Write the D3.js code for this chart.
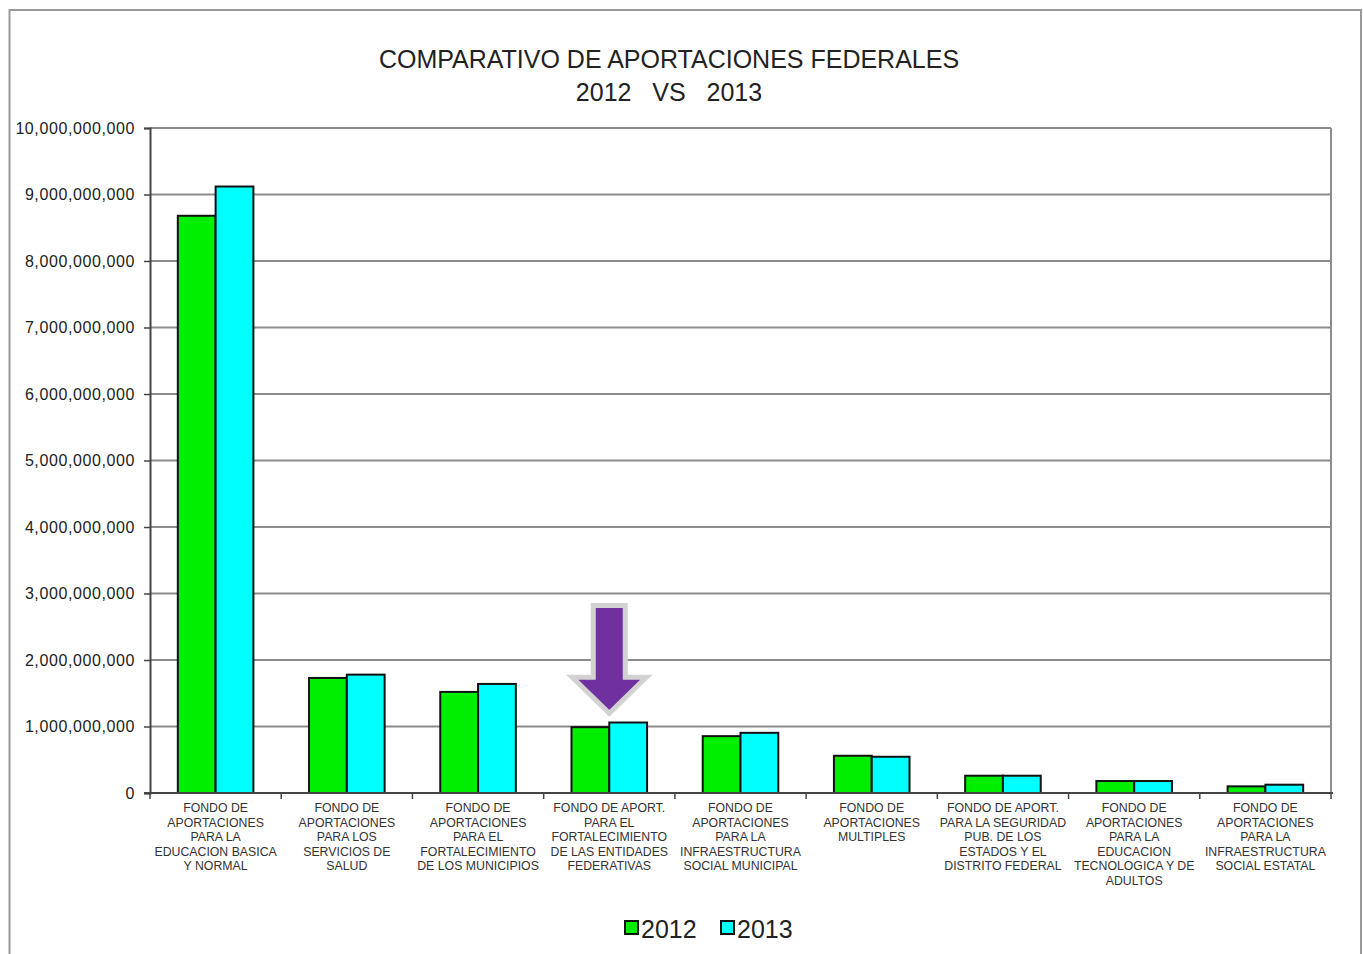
<!DOCTYPE html>
<html>
<head>
<meta charset="utf-8">
<script src="https://cdn.jsdelivr.net/npm/d3@7"></script>
<style>
  html, body { margin: 0; padding: 0; background: #fff; }
  svg { display: block; font-family: "Liberation Sans", Arial, sans-serif; }
</style>
</head>
<body>
<svg id="chart" width="1363" height="954"></svg>
<script>
// ---- data ----
const categories = [
  ["FONDO DE", "APORTACIONES", "PARA LA", "EDUCACION BASICA", "Y NORMAL"],
  ["FONDO DE", "APORTACIONES", "PARA LOS", "SERVICIOS DE", "SALUD"],
  ["FONDO DE", "APORTACIONES", "PARA EL", "FORTALECIMIENTO", "DE LOS MUNICIPIOS"],
  ["FONDO DE APORT.", "PARA EL", "FORTALECIMIENTO", "DE LAS ENTIDADES", "FEDERATIVAS"],
  ["FONDO DE", "APORTACIONES", "PARA LA", "INFRAESTRUCTURA", "SOCIAL MUNICIPAL"],
  ["FONDO DE", "APORTACIONES", "MULTIPLES"],
  ["FONDO DE APORT.", "PARA LA SEGURIDAD", "PUB. DE LOS", "ESTADOS Y EL", "DISTRITO FEDERAL"],
  ["FONDO DE", "APORTACIONES", "PARA LA", "EDUCACION", "TECNOLOGICA Y DE", "ADULTOS"],
  ["FONDO DE", "APORTACIONES", "PARA LA", "INFRAESTRUCTURA", "SOCIAL ESTATAL"]
];
const seriesNames = ["2012", "2013"];
const values2012 = [8.68e9, 1.73e9, 1.52e9, 0.99e9, 0.855e9, 0.56e9, 0.26e9, 0.18e9, 0.10e9];
const values2013 = [9.12e9, 1.78e9, 1.64e9, 1.06e9, 0.905e9, 0.545e9, 0.26e9, 0.18e9, 0.125e9];
const yTicks = [0, 1e9, 2e9, 3e9, 4e9, 5e9, 6e9, 7e9, 8e9, 9e9, 10e9];
const titleLines = ["COMPARATIVO DE APORTACIONES FEDERALES", "2012   VS   2013"];
const highlightIndex = 3;        // category pointed at by the arrow
const arrowRange = [2.82e9, 1.2e9]; // arrow top / tip, in axis units

// ---- layout ----
const colors = ["#00ee00", "#00ffff"];
const svg = d3.select("#chart");
const plot = { left: 150, right: 1331, top: 128, bottom: 793 };

// outer frame
svg.append("rect")
  .attr("x", 9.5).attr("y", 10).attr("width", 1351.5).attr("height", 960)
  .attr("fill", "none").attr("stroke", "#999").attr("stroke-width", 2);

const idx = d3.range(categories.length);
const x0 = d3.scaleBand().domain(idx).range([plot.left, plot.right])
  .paddingInner(0.424).paddingOuter(0.212);
const x1 = d3.scaleBand().domain(seriesNames).range([0, x0.bandwidth()]);
const y = d3.scaleLinear().domain([0, 10e9]).range([plot.bottom, plot.top]);

// title
svg.append("g").selectAll("text").data(titleLines).join("text")
  .attr("x", 669).attr("y", (d, i) => 68 + i * 33)
  .attr("text-anchor", "middle")
  .attr("font-size", 25)
  .attr("fill", "#222")
  .style("white-space", "pre")
  .attr("xml:space", "preserve")
  .text(d => d);

// gridlines
svg.append("g").selectAll("line").data(yTicks.filter(t => t > 0)).join("line")
  .attr("x1", plot.left).attr("x2", plot.right)
  .attr("y1", d => y(d)).attr("y2", d => y(d))
  .attr("stroke", "#8c8c8c").attr("stroke-width", 2);

// right border of plot area
svg.append("line")
  .attr("x1", plot.right).attr("x2", plot.right)
  .attr("y1", plot.top).attr("y2", plot.bottom)
  .attr("stroke", "#8c8c8c").attr("stroke-width", 2);

// y axis
const fmt = d3.format(",");
const yAxis = svg.append("g")
  .attr("transform", `translate(${plot.left},0)`)
  .call(d3.axisLeft(y).tickValues(yTicks).tickSize(6).tickPadding(9).tickFormat(fmt));
yAxis.select(".domain").attr("stroke", "#444").attr("stroke-width", 2);
yAxis.selectAll(".tick line").attr("stroke", "#444").attr("stroke-width", 1.5);
yAxis.selectAll(".tick text")
  .attr("font-size", 16).attr("fill", "#222")
  .attr("font-family", "'Liberation Sans', Arial, sans-serif")
  .style("letter-spacing", "0.6px");

// bars
const data = idx.map(i => ({ i, vals: [values2012[i], values2013[i]] }));
const groups = svg.append("g").selectAll("g").data(data).join("g")
  .attr("transform", d => `translate(${x0(d.i)},0)`);
groups.selectAll("rect").data(d => d.vals.map((v, k) => ({ v, k }))).join("rect")
  .attr("x", d => x1(seriesNames[d.k]))
  .attr("width", x1.bandwidth())
  .attr("y", d => y(d.v))
  .attr("height", d => y(0) - y(d.v))
  .attr("fill", d => colors[d.k])
  .attr("stroke", "#111").attr("stroke-width", 2);

// x axis line + ticks at category boundaries
svg.append("line")
  .attr("x1", plot.left - 6).attr("x2", plot.right + 2)
  .attr("y1", plot.bottom).attr("y2", plot.bottom)
  .attr("stroke", "#444").attr("stroke-width", 2);
const step = x0.step();
svg.append("g").selectAll("line").data(d3.range(categories.length + 1)).join("line")
  .attr("x1", d => plot.left + d * step).attr("x2", d => plot.left + d * step)
  .attr("y1", plot.bottom).attr("y2", plot.bottom + 6)
  .attr("stroke", "#444").attr("stroke-width", 1.5);

// category labels
const lab = svg.append("g").selectAll("text").data(data).join("text")
  .attr("text-anchor", "middle")
  .attr("font-size", 12.3)
  .attr("fill", "#333");
lab.selectAll("tspan").data(d => categories[d.i].map(t => ({ t, i: d.i }))).join("tspan")
  .attr("x", d => x0(d.i) + x0.bandwidth() / 2)
  .attr("y", (d, j) => 812 + j * 14.6)
  .text(d => d.t);

// arrow annotation
const cx = x0(highlightIndex) + x0.bandwidth() / 2;
const yTop = y(arrowRange[0]), yTip = y(arrowRange[1]);
const headBase = yTip - 36, sw = 16, hw = 37;
svg.append("path")
  .attr("d", `M${cx - sw},${yTop} L${cx + sw},${yTop} L${cx + sw},${headBase} L${cx + hw},${headBase} L${cx},${yTip} L${cx - hw},${headBase} L${cx - sw},${headBase} Z`)
  .attr("fill", "#7030a0")
  .attr("stroke", "#d2d2d2").attr("stroke-width", 5)
  .attr("stroke-linejoin", "miter");

// legend
const legend = svg.append("g");
const legX = [625, 721];
seriesNames.forEach((s, k) => {
  legend.append("rect")
    .attr("x", legX[k]).attr("y", 921).attr("width", 13).attr("height", 13)
    .attr("fill", colors[k]).attr("stroke", "#111").attr("stroke-width", 2);
  legend.append("text")
    .attr("x", legX[k] + 16).attr("y", 938)
    .attr("font-size", 25).attr("fill", "#222")
    .text(s);
});
</script>
</body>
</html>
